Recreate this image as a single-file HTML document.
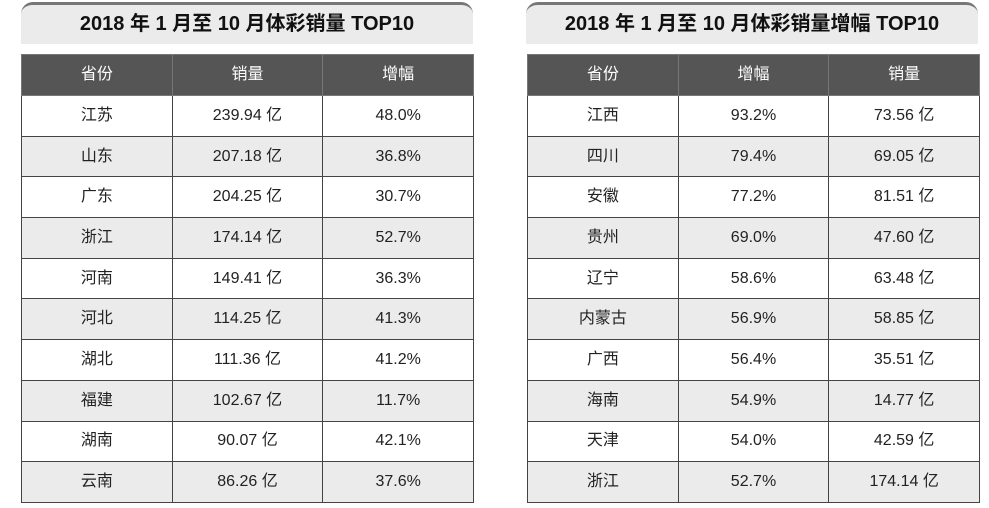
<!DOCTYPE html>
<html><head><meta charset="utf-8"><style>
body{margin:0;width:989px;height:508px;background:#fff;position:relative;overflow:hidden;font-family:"Liberation Sans","Noto Sans CJK SC",sans-serif;}
.title{position:absolute;top:2px;height:42px;width:452px;background:#ebebeb;border-top:3px solid #777;border-radius:12px 12px 0 0;box-sizing:border-box;text-align:center;font-weight:bold;font-size:20px;line-height:38px;color:#111;}
table{position:absolute;top:54px;border-collapse:collapse;width:453px;table-layout:fixed;}
td,th{height:39.7px;border:1px solid #444;text-align:center;font-size:16px;line-height:20px;color:#222;padding:0;font-weight:normal;vertical-align:middle;}
th{background:#555;color:#fff;border-color:#777;height:40px;}
tr:nth-child(odd) td{background:#ebebeb;}
</style></head><body>
<div class="title" style="left:21px">2018 年 1 月至 10 月体彩销量 TOP10</div>
<div class="title" style="left:526px">2018 年 1 月至 10 月体彩销量增幅 TOP10</div>
<table style="left:21px">
<tr><th>省份</th><th>销量</th><th>增幅</th></tr>
<tr><td>江苏</td><td>239.94 亿</td><td>48.0%</td></tr>
<tr><td>山东</td><td>207.18 亿</td><td>36.8%</td></tr>
<tr><td>广东</td><td>204.25 亿</td><td>30.7%</td></tr>
<tr><td>浙江</td><td>174.14 亿</td><td>52.7%</td></tr>
<tr><td>河南</td><td>149.41 亿</td><td>36.3%</td></tr>
<tr><td>河北</td><td>114.25 亿</td><td>41.3%</td></tr>
<tr><td>湖北</td><td>111.36 亿</td><td>41.2%</td></tr>
<tr><td>福建</td><td>102.67 亿</td><td>11.7%</td></tr>
<tr><td>湖南</td><td>90.07 亿</td><td>42.1%</td></tr>
<tr><td>云南</td><td>86.26 亿</td><td>37.6%</td></tr>
</table>
<table style="left:527px">
<tr><th>省份</th><th>增幅</th><th>销量</th></tr>
<tr><td>江西</td><td>93.2%</td><td>73.56 亿</td></tr>
<tr><td>四川</td><td>79.4%</td><td>69.05 亿</td></tr>
<tr><td>安徽</td><td>77.2%</td><td>81.51 亿</td></tr>
<tr><td>贵州</td><td>69.0%</td><td>47.60 亿</td></tr>
<tr><td>辽宁</td><td>58.6%</td><td>63.48 亿</td></tr>
<tr><td>内蒙古</td><td>56.9%</td><td>58.85 亿</td></tr>
<tr><td>广西</td><td>56.4%</td><td>35.51 亿</td></tr>
<tr><td>海南</td><td>54.9%</td><td>14.77 亿</td></tr>
<tr><td>天津</td><td>54.0%</td><td>42.59 亿</td></tr>
<tr><td>浙江</td><td>52.7%</td><td>174.14 亿</td></tr>
</table>
</body></html>
